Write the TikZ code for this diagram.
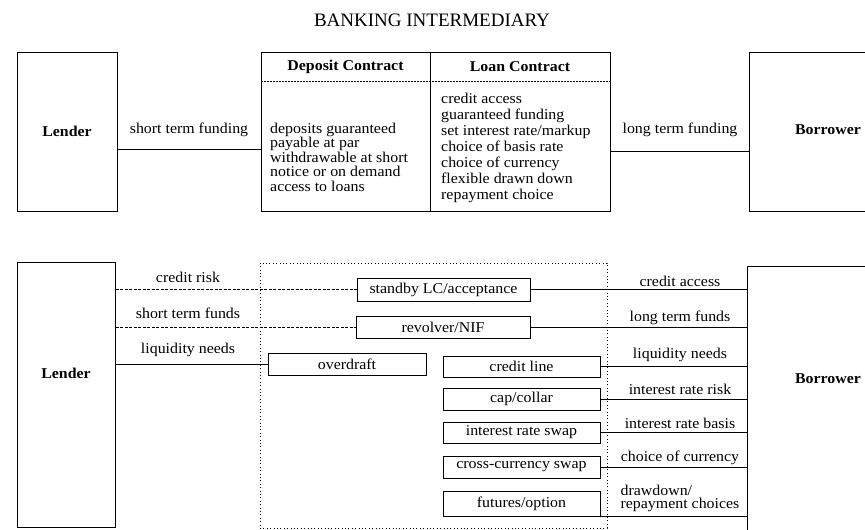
\documentclass[tikz,border=0pt]{standalone}
\usepackage{fontspec}
\setmainfont{Liberation Serif}[FakeStretch=1.06]
\newfontfamily\titlefont{Liberation Serif}
\begin{document}
\begin{tikzpicture}[x=1pt,y=-1pt,
  boxline/.style={line width=1pt},
  box/.style={draw, boxline, inner sep=0pt},
  ghost/.style={inner sep=0pt},
  prod/.style={box, minimum width=157pt, minimum height=22pt, font=\fontsize{15}{15}\selectfont},
  conn/.style={line width=0.7pt},
  dconn/.style={line width=0.6pt, dash pattern=on 3pt off 1.5pt},
  dsep/.style={line width=0.6pt, dash pattern=on 2pt off 1pt},
  dotline/.style={line width=1pt, dash pattern=on 1pt off 2.4pt},
  lbl/.style={inner sep=0pt, font=\fontsize{15}{15}\selectfont},
  blbl/.style={inner sep=0pt, font=\fontsize{15}{15}\selectfont\bfseries},
  body/.style={inner sep=0pt, align=left, anchor=north west}
]
\useasboundingbox (0,0) rectangle (865,530);

% ---------- title ----------
\node[inner sep=0pt, font=\titlefont\fontsize{19}{20}\selectfont] (title) at (432,20) {BANKING INTERMEDIARY};

% ---------- top section ----------
\node[box, minimum width=100pt, minimum height=159pt, font=\fontsize{15}{15}\selectfont\bfseries] (lenderA) at (67,131.5) {Lender};
\node[box, minimum width=169pt, minimum height=159pt] (depA) at (345.5,131.5) {};
\node[box, minimum width=180pt, minimum height=159pt] (loanA) at (520,131.5) {};
\node[ghost, minimum width=115pt, minimum height=159pt] (borrowerA) at (807.5,132) {};
\draw[boxline] (borrowerA.north east) -- (borrowerA.north west) -- (borrowerA.south west) -- (borrowerA.south east);
\node[blbl] (borrowerAlbl) at (828,130) {Borrower};

\node[blbl] (depHead) at (345.5,67) {Deposit Contract};
\node[blbl] (loanHead) at (520,67) {Loan Contract};
\draw[dsep] ([yshift=-30pt]depA.north west) -- ([yshift=-30pt]loanA.north east);

\node[body, font=\fontsize{15}{14.6}\selectfont] (depText) at (270,122.5)
  {deposits guaranteed\\payable at par\\withdrawable at short\\notice or on demand\\access to loans};
\node[body, font=\fontsize{15}{16}\selectfont] (loanText) at (441,93)
  {credit access\\guaranteed funding\\set interest rate/markup\\choice of basis rate\\choice of currency\\flexible drawn down\\repayment choice};

\node[lbl] (stfA) at (189,130) {short term funding};
\node[lbl] (ltfA) at (680,130) {long term funding};
\draw[conn] ([yshift=-17.5pt]lenderA.east) -- ([yshift=-17.5pt]lenderA.east -| depA.west);
\draw[conn] ([yshift=-19.5pt]loanA.east) -- ([yshift=-19.5pt]loanA.east -| borrowerA.west);

% ---------- bottom section ----------
\node[box, minimum width=98pt, minimum height=265pt] (lenderB) at (66,394.5) {};
\node[blbl] (lenderBlbl) at (66,373) {Lender};
\node[ghost, minimum width=117pt, minimum height=263pt] (borrowerB) at (806.5,398.5) {};
\draw[boxline] (borrowerB.north east) -- (borrowerB.north west) -- (borrowerB.south west);
\node[blbl] (borrowerBlbl) at (828,379) {Borrower};

\node[draw, dotline, inner sep=0pt, minimum width=347pt, minimum height=265pt] (bank) at (433.5,395.5) {};

\node[prod, minimum width=173pt, minimum height=23pt] (standby) at (443.5,289.5) {standby LC/acceptance};
\node[prod, minimum width=174pt] (revolver) at (443,327) {revolver/NIF};
\node[prod, minimum width=158pt] (overdraft) at (347,364) {overdraft};
\node[prod, minimum height=21pt] (creditline) at (521.5,366.5) {credit line};
\node[prod] (cap) at (521.5,399) {cap/collar};
\node[prod, minimum height=21pt] (irs) at (521.5,432.5) {interest rate swap};
\node[prod] (ccs) at (521.5,467) {cross-currency swap};
\node[prod, minimum height=25pt] (fut) at (521.5,503.5) {futures/option};

% left labels
\node[lbl] (crisk) at (188,277) {credit risk};
\node[lbl] (stfunds) at (188,313) {short term funds};
\node[lbl] (liqL) at (188,350) {liquidity needs};
% right labels
\node[lbl] (caccess) at (680,281) {credit access};
\node[lbl] (ltfunds) at (680,318) {long term funds};
\node[lbl] (liqR) at (680,355) {liquidity needs};
\node[lbl] (irrisk) at (680,389) {interest rate risk};
\node[lbl] (irbasis) at (680,423) {interest rate basis};
\node[lbl] (ccur) at (680,458) {choice of currency};
\node[lbl, align=left, font=\fontsize{15}{13.5}\selectfont] (drawdown) at (680,498.5) {drawdown/\\repayment choices};

% connectors lender side
\draw[dconn] (standby.west -| lenderB.east) -- (standby.west);
\draw[dconn] (revolver.west -| lenderB.east) -- (revolver.west);
\draw[conn] (overdraft.west -| lenderB.east) -- (overdraft.west);
% connectors borrower side
\draw[conn] (standby.east) -- (standby.east -| borrowerB.west);
\draw[conn] (revolver.east) -- (revolver.east -| borrowerB.west);
\draw[conn] (creditline.east) -- (creditline.east -| borrowerB.west);
\draw[conn] (cap.east) -- (cap.east -| borrowerB.west);
\draw[conn] (irs.east) -- (irs.east -| borrowerB.west);
\draw[conn] (ccs.east) -- (ccs.east -| borrowerB.west);
\draw[conn] (fut.south east) -- (fut.south east -| borrowerB.west);
\end{tikzpicture}
\end{document}
